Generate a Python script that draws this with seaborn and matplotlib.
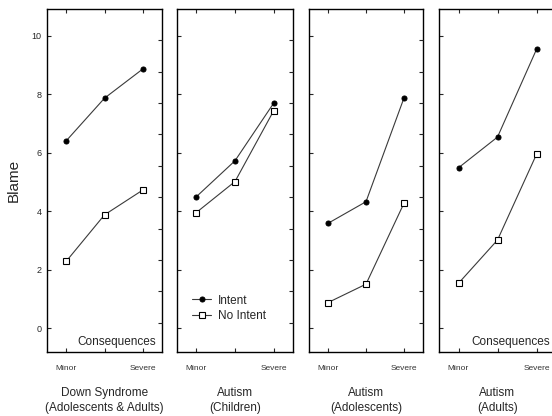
import numpy as np
import pandas as pd
import matplotlib
matplotlib.use("Agg")
import matplotlib.pyplot as plt
import seaborn as sns

# Values
consequences = ["Minor", "", "Severe"]
groups = ["Down Syndrome\n(Adolescents & Adults)", "Autism\n(Children)",
          "Autism\n(Adolescents)", "Autism\n(Adults)"]
intent = [
    [6.40, 7.86, 8.86],
    [4.49, 5.72, 7.69],
    [3.58, 4.32, 7.87],
    [5.48, 6.53, 9.53],
]
no_intent = [
    [2.28, 3.87, 4.72],
    [3.95, 5.01, 7.43],
    [0.87, 1.50, 4.27],
    [1.53, 3.01, 5.94],
]

sns.set_style("white")
plt.rcParams["font.family"] = ["Liberation Sans", "DejaVu Sans"]

fig = plt.figure(figsize=(5.52, 4.16), dpi=100)

# panel left edges / widths in pixels (figure is 552 wide)
lefts = [47, 177, 309, 439]
widths = [115, 116, 114, 117]
bottom = 1 - 352 / 416
height = (352 - 9) / 416

for i, grp in enumerate(groups):
    ax = fig.add_axes([lefts[i] / 552, bottom, widths[i] / 552, height])
    df = pd.DataFrame({"pos": [0, 1, 2], "intent": intent[i], "no_intent": no_intent[i]})
    sns.lineplot(data=df, x="pos", y="intent", ax=ax, color="#3a3a3a", lw=0.8,
                 marker="o", markersize=3.6, markerfacecolor="black",
                 markeredgecolor="black", label="Intent")
    sns.lineplot(data=df, x="pos", y="no_intent", ax=ax, color="#3a3a3a", lw=0.8,
                 marker="s", markersize=4, markerfacecolor="white",
                 markeredgecolor="black", markeredgewidth=0.8, label="No Intent")

    ax.set_xlim(-0.5, 2.5)
    ax.set_ylim(-0.82, 10.91)
    ax.set_xticks([0, 1, 2])
    ax.set_xticklabels(consequences, fontsize=6, color="#333333")
    ax.set_yticks(range(0, 11, 2))
    ax.tick_params(axis="x", direction="in", length=3, top=True, bottom=True, pad=9)
    ax.tick_params(axis="y", direction="in", length=3, left=True, right=False,
                   labelsize=6.5, pad=4)
    if i == 0:
        ax.set_ylabel("Blame", fontsize=11, labelpad=8)
    else:
        ax.set_yticklabels([])
        ax.set_ylabel("")
    ax.set_xlabel(grp, fontsize=8.5, labelpad=11, linespacing=1.35)
    for s in ax.spines.values():
        s.set_color("black")
        s.set_linewidth(1.0)

    # right-hand ticks on a separate scale
    ax2 = ax.twinx()
    ax2.set_ylim(-0.93, 9.99)
    ax2.set_yticks(range(10))
    ax2.set_yticklabels([])
    ax2.tick_params(axis="y", direction="in", length=3, right=True)
    ax2.grid(False)
    for s in ax2.spines.values():
        s.set_visible(False)

    if i == 1:
        ax.legend(loc="lower left", bbox_to_anchor=(0.08, 0.07), frameon=False,
                  fontsize=8.5, handlelength=1.6, handletextpad=0.6, labelspacing=0.3,
                  borderpad=0)
    else:
        leg = ax.get_legend()
        if leg is not None:
            leg.remove()

    if i in (0, 3):
        ax.text(0.95, 0.012, "Consequences", transform=ax.transAxes, ha="right",
                va="bottom", fontsize=8.5)

fig.savefig("out.png", dpi=100)
